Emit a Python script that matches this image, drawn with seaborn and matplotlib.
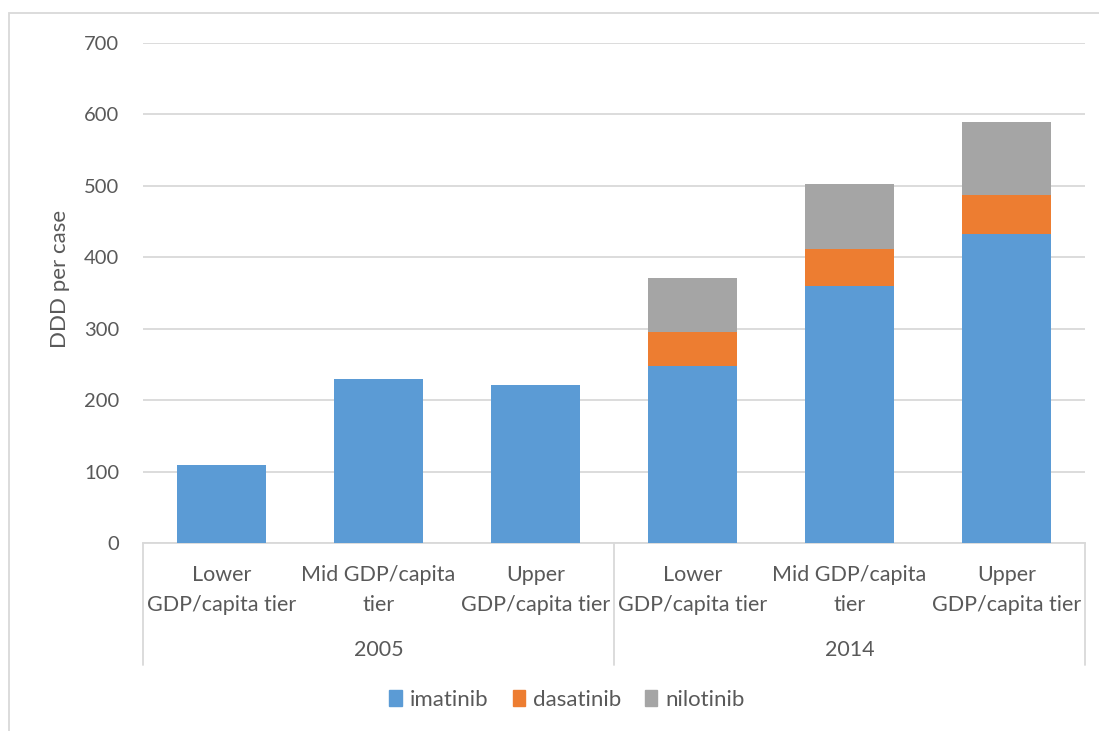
import pandas as pd
import seaborn as sns
import matplotlib.pyplot as plt
from matplotlib.patches import Rectangle
from matplotlib.patches import Patch

years = ["2005", "2005", "2005", "2014", "2014", "2014"]
tiers = ["Lower\nGDP/capita tier", "Mid GDP/capita\ntier", "Upper\nGDP/capita tier",
         "Lower\nGDP/capita tier", "Mid GDP/capita\ntier", "Upper\nGDP/capita tier"]
imatinib = [109, 230, 221, 248, 360, 432]
dasatinib = [0, 0, 0, 48, 51, 55]
nilotinib = [0, 0, 0, 75, 91, 102]

drugs = ["imatinib", "dasatinib", "nilotinib"]
colors = {"imatinib": "#5B9BD5", "dasatinib": "#ED7D31", "nilotinib": "#A5A5A5"}
grey_txt = "#595959"
grid_c = "#D9D9D9"

sns.set_theme(style="white")
plt.rcParams['font.family'] = ['Lato', 'DejaVu Sans']

keys = [f"{y}|{i}" for i, y in enumerate(years)]
df = pd.DataFrame({"key": keys, "imatinib": imatinib,
                   "dasatinib": dasatinib, "nilotinib": nilotinib})
# cumulative tops for stacking
df["top_imatinib"] = df["imatinib"]
df["top_dasatinib"] = df["imatinib"] + df["dasatinib"]
df["top_nilotinib"] = df["top_dasatinib"] + df["nilotinib"]

fig = plt.figure(figsize=(10.99, 7.31), dpi=100)
ax = fig.add_axes([143 / 1099, 1 - 543 / 731, 942 / 1099, 500 / 731])

for d in reversed(drugs):
    sns.barplot(data=df, x="key", y=f"top_{d}", color=colors[d], width=0.573,
                saturation=1, linewidth=0, ax=ax, zorder=3)

ax.set_ylim(0, 700)
ax.set_xlim(-0.5, 5.5)
ax.set_yticks(range(0, 701, 100))
ax.yaxis.grid(True, color=grid_c, linewidth=1.3, zorder=0)
ax.set_axisbelow(True)
for s in ["top", "right", "left"]:
    ax.spines[s].set_visible(False)
ax.spines["bottom"].set_color(grid_c)
ax.spines["bottom"].set_linewidth(1.3)

ax.tick_params(axis="y", length=0, pad=17, labelsize=14.5, labelcolor=grey_txt)
ax.tick_params(axis="x", length=0, pad=16, labelsize=15.5, labelcolor=grey_txt)
ax.set_xticks(range(6))
ax.set_xticklabels(tiers)
for t in ax.get_xticklabels():
    t.set_linespacing(1.6)
ax.set_xlabel("")
ax.set_ylabel("DDD per case", fontsize=16, color=grey_txt)
ax.yaxis.set_label_coords(-73 / 942, 0.529)

# group separators and year labels
trans = ax.get_xaxis_transform()
for xpos in [-0.5, 2.5, 5.5]:
    ax.plot([xpos, xpos], [0, -122 / 500], transform=trans, color=grid_c,
            linewidth=1.3, clip_on=False)
for xpos, yr in [(1, "2005"), (4, "2014")]:
    ax.text(xpos, -107 / 500, yr, transform=trans, ha="center", va="center",
            fontsize=15.5, color=grey_txt)

handles = [Patch(color=colors[d], label=d) for d in drugs]
fig.legend(handles=handles, loc="center", bbox_to_anchor=(567 / 1099, 1 - 700 / 731),
           ncol=3, frameon=False, fontsize=16, handlelength=0.55, handleheight=0.7,
           handletextpad=0.35, columnspacing=1.1, labelcolor=grey_txt)

fig.patches.append(Rectangle((9 / 1099, -0.02), 1.1, 1.02 - 13 / 731,
                             transform=fig.transFigure, fill=False,
                             edgecolor=grid_c, linewidth=1.3))

plt.savefig("out.png", dpi=100)
